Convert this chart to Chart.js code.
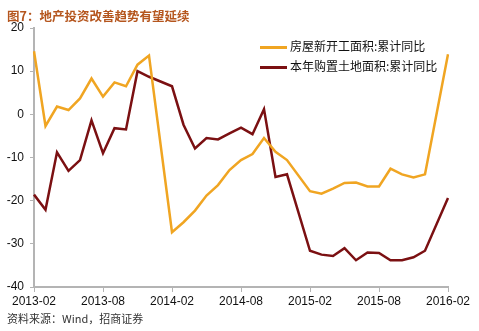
<!DOCTYPE html>
<html>
<head>
<meta charset="utf-8">
<script src="https://cdn.jsdelivr.net/npm/chart.js@4"></script>
<style>
  html, body { margin: 0; padding: 0; background: #ffffff; }
  #wrap { position: relative; width: 479px; height: 331px; overflow: hidden; }
  #chart { position: absolute; left: 0; top: 0; }
  .title { position: absolute; left: 7px; top: 6px; font: bold 12.5px "Noto Sans CJK SC", sans-serif; color: #b5561e; white-space: nowrap; }
  .source { position: absolute; left: 7px; top: 310px; font: 11px "Noto Sans CJK SC", sans-serif; color: #333; white-space: nowrap; }
  .legend { position: absolute; left: 260px; top: 36px; font: 12px "Noto Sans CJK SC", sans-serif; color: #111; }
  .legend div { height: 20px; line-height: 20px; white-space: nowrap; }
  .legend span { display: inline-block; width: 27px; height: 3px; vertical-align: middle; margin-right: 3px; }
</style>
</head>
<body>
<div id="wrap">
  <canvas id="chart" width="479" height="331"></canvas>
  <div class="title">图7：地产投资改善趋势有望延续</div>
  <div class="legend">
    <div><span style="background:#f0a522"></span>房屋新开工面积:累计同比</div>
    <div><span style="background:#7b1012"></span>本年购置土地面积:累计同比</div>
  </div>
  <div class="source">资料来源：Wind，招商证券</div>
</div>
<script>
// monthly categories, January has no data (Jan-Feb reported together)
const months = [
  '2013-02','2013-03','2013-04','2013-05','2013-06','2013-07','2013-08','2013-09','2013-10','2013-11','2013-12',
  '2014-01','2014-02','2014-03','2014-04','2014-05','2014-06','2014-07','2014-08','2014-09','2014-10','2014-11','2014-12',
  '2015-01','2015-02','2015-03','2015-04','2015-05','2015-06','2015-07','2015-08','2015-09','2015-10','2015-11','2015-12',
  '2016-01','2016-02'
];
const tickLabels = ['2013-02','2013-08','2014-02','2014-08','2015-02','2015-08','2016-02'];

const newStarts = [
  14.6, -2.7, 1.8, 1.0, 3.7, 8.3, 4.1, 7.4, 6.5, 11.5, 13.6,
  null, -27.3, -25.0, -22.3, -18.8, -16.4, -12.9, -10.6, -9.2, -5.5, -8.7, -10.6,
  null, -17.8, -18.4, -17.2, -15.9, -15.8, -16.7, -16.7, -12.6, -13.9, -14.6, -13.9,
  null, 13.9
];
const landPurchase = [
  -18.6, -22.1, -8.8, -13.1, -10.6, -1.4, -9.0, -3.2, -3.5, 10.0, 8.7,
  null, 6.5, -2.4, -7.9, -5.5, -5.8, -4.4, -3.1, -4.6, 1.2, -14.5, -13.9,
  null, -31.6, -32.5, -32.8, -31.0, -33.8, -32.0, -32.1, -33.8, -33.8, -33.1, -31.6,
  null, -19.4
];

const axisColor = '#b4b4b4';
const tickFont = { family: '"Liberation Sans", Arial, sans-serif', size: 12 };

new Chart(document.getElementById('chart'), {
  type: 'line',
  data: {
    labels: months,
    datasets: [
      { label: '房屋新开工面积:累计同比', data: newStarts, borderColor: '#f0a522', borderWidth: 2.5, pointRadius: 0, spanGaps: true, tension: 0 },
      { label: '本年购置土地面积:累计同比', data: landPurchase, borderColor: '#7b1012', borderWidth: 2.5, pointRadius: 0, spanGaps: true, tension: 0 }
    ]
  },
  options: {
    responsive: false,
    animation: false,
    layout: { padding: { left: 0, right: 31, top: 28, bottom: 24 } },
    plugins: { legend: { display: false }, tooltip: { enabled: false } },
    scales: {
      x: {
        offset: false,
        border: { display: true, color: axisColor, width: 2 },
        grid: { display: true, drawOnChartArea: false, drawTicks: true, tickLength: 5, color: axisColor, lineWidth: 1 },
        ticks: {
          autoSkip: false, maxRotation: 0, color: '#111', font: tickFont, padding: 2,
          callback: function (value) {
            const lab = this.getLabelForValue(value);
            return tickLabels.includes(lab) ? lab : null;
          }
        },
        afterFit: (scale) => { scale.height = 20; }
      },
      y: {
        min: -40, max: 20,
        border: { display: true, color: axisColor, width: 2 },
        grid: { display: true, drawOnChartArea: false, drawTicks: true, tickLength: 4, color: axisColor },
        ticks: { stepSize: 10, color: '#111', font: tickFont, padding: 6 },
        afterFit: (scale) => { scale.width = 34; }
      }
    }
  }
});
</script>
</body>
</html>
